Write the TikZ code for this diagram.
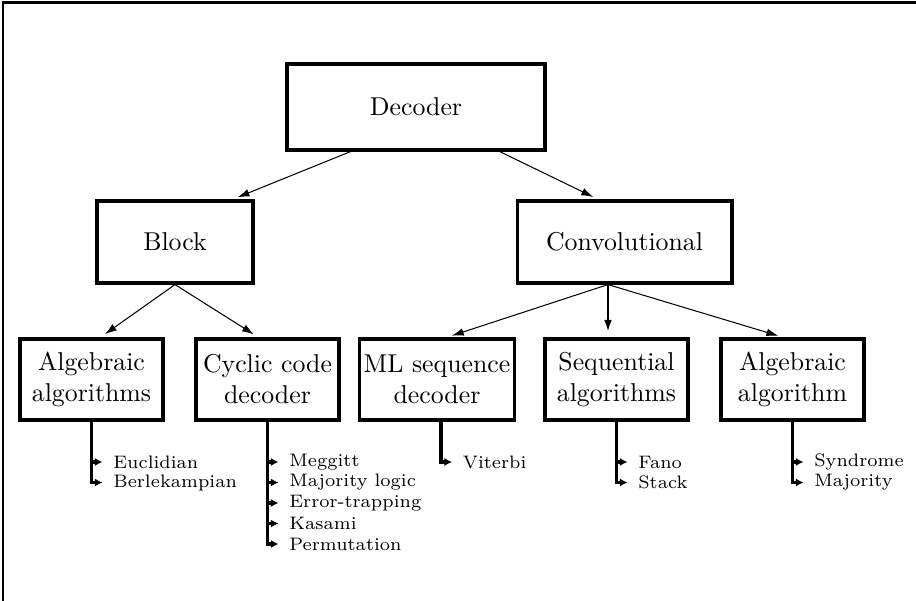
\documentclass[tikz,border=0pt]{standalone}
\usepackage{tikz}
\usetikzlibrary{positioning,arrows.meta,calc}

\begin{document}
\begin{tikzpicture}[x=0.3876pt,y=-0.3876pt,font=\normalsize,
    box/.style={draw,very thick,align=center,inner xsep=1pt,inner ysep=0pt},
    lvone/.style={box,minimum width=100pt,minimum height=33.3pt},
    lvtwo/.style={box,minimum height=31.8pt},
    lvthree/.style={box,minimum width=55.4pt,minimum height=31.4pt},
    item/.style={anchor=west,font=\scriptsize,inner xsep=4pt,inner ysep=1pt},
    tip/.style={-{Latex[length=4.6pt,width=3pt]},shorten >=2.2pt},
    stub/.style={very thick,-{Latex[length=3pt,width=3.2pt]}}]
  \useasboundingbox (0,0) rectangle (916,601);
  \draw[thick] (3,601) -- (3,2.5) -- (916,2.5);

  % boxes
  \node[lvone] (dec) at (416,107) {Decoder};
  \node[lvtwo,minimum width=60.5pt] (blk) at (175,242) {Block};
  \node[lvtwo,minimum width=83.3pt] (conv) at (624.5,242) {Convolutional};
  \node[lvthree] (alg1) at (91.5,379.5) {Algebraic\\algorithms};
  \node[lvthree] (cyc) at (267.5,379.5) {Cyclic code\\decoder};
  \node[lvthree,inner xsep=1.5pt] (ml) at (437,379.5) {ML sequence\\decoder};
  \node[lvthree] (seq) at (616.5,379.5) {Sequential\\algorithms};
  \node[lvthree] (alg2) at (792.5,379.5) {Algebraic\\algorithm};

  % tree arrows
  \draw[tip] ($(dec.south west)!0.25!(dec.south east)$) -- ($(blk.north west)!0.86!(blk.north east)$);
  \draw[tip] ($(dec.south west)!0.82!(dec.south east)$) -- ($(conv.north west)!0.38!(conv.north east)$);
  \draw[tip] (blk.south) -- ($(alg1.north)!0.12!(alg1.north east)$);
  \draw[tip] (blk.south) -- ($(cyc.north)!0.12!(cyc.north west)$);
  \coordinate (cfork) at ($(conv.south)+(-16.5,0)$);
  \draw[tip] (cfork) -- ($(ml.north)!0.12!(ml.north east)$);
  \draw[tip,thick] (cfork) -- (cfork |- seq.north);
  \draw[tip] (cfork) -- ($(alg2.north)!0.12!(alg2.north west)$);

  % algorithm lists
  \foreach \t [count=\i from 0] in {Euclidian,Berlekampian}{
    \node[item] (alg1i\i) at (102.5,{462+20.5*\i}) {\t};
    \draw[stub] (alg1.south) |- (alg1i\i.west);
  }
  \foreach \t [count=\i from 0] in {Meggitt,Majority logic,Error-trapping,Kasami,Permutation}{
    \node[item] (cyci\i) at (278.5,{462+20.5*\i}) {\t};
    \draw[stub] (cyc.south) |- (cyci\i.west);
  }
  \node[item] (mli0) at (452,462) {Viterbi};
  \draw[stub] ($(ml.south)+(4,0)$) |- (mli0.west);
  \foreach \t [count=\i from 0] in {Fano,Stack}{
    \node[item] (seqi\i) at (627.5,{462+20.5*\i}) {\t};
    \draw[stub] (seq.south) |- (seqi\i.west);
  }
  \foreach \t [count=\i from 0] in {Syndrome,Majority}{
    \node[item] (alg2i\i) at (803.5,{462+20.5*\i}) {\t};
    \draw[stub] (alg2.south) |- (alg2i\i.west);
  }
\end{tikzpicture}
\end{document}
